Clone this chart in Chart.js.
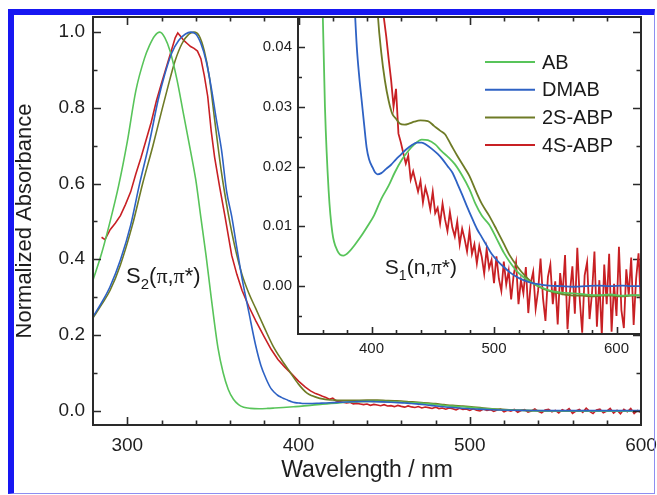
<!DOCTYPE html>
<html>
<head>
<meta charset="utf-8">
<script src="https://cdn.jsdelivr.net/npm/chart.js@4.4.0/dist/chart.umd.min.js"></script>
<style>
  html, body { margin: 0; padding: 0; background: #fff; }
  #wrap { position: relative; width: 657px; height: 495px; overflow: hidden; }
  #mainChart { position: absolute; left: 0; top: 0; }
  #insetChart { position: absolute; left: 230px; top: 0; }
  #frame {
    position: absolute; left: 8px; top: 9px; width: 640px; height: 478px;
    border-top: 6px solid #1717f2; border-left: 6px solid #1717f2;
    border-right: 1px solid #8e8ef0; border-bottom: 1px solid #8e8ef0;
    pointer-events: none;
  }
</style>
</head>
<body>
<div id="wrap">
  <canvas id="mainChart" width="657" height="495"></canvas>
  <canvas id="insetChart" width="427" height="370"></canvas>
  <div id="frame"></div>
</div>
<script>
// ---- data ----
var abWl = [280,285,290,295,300,305,310,313,316,319,322,325,329,333,337,340,343,346,349,353,356,359,362,365,368,372,377,382,386,391,397,402,408,414,419,425,430,435,441,446,452,457,463,468,474,480,485,490,496,502,508,513,520,528,535,545,555,565,575,585,595,605,612,620];
var abAbs = [0.345,0.415,0.50,0.595,0.71,0.845,0.93,0.965,0.99,1.0,0.985,0.95,0.875,0.78,0.685,0.61,0.51,0.41,0.30,0.165,0.10,0.056,0.03,0.016,0.009,0.006,0.0051,0.0058,0.0068,0.0082,0.0101,0.0118,0.0146,0.0168,0.019,0.0212,0.0226,0.0237,0.0245,0.0244,0.0237,0.0226,0.0215,0.0204,0.0185,0.0162,0.0137,0.0118,0.0103,0.0080,0.0056,0.0040,0.0022,0.0009,0.0001,-0.0007,-0.0011,-0.0012,-0.0014,-0.0015,-0.0014,-0.0016,-0.0015,-0.0015];

var dmabWl = [280,285,290,296,302,307,313,318,322,326,330,334,337,340,343,346,349,352,355,358,361,364,367,371,375,378,381,384,386,388,390,392,394,396,398,401,403,405,408,412,416,420,424,428,433,437,441,445,449,454,458,462,466,470,474,478,482,486,490,494,498,503,508,513,518,524,530,537,545,555,565,575,585,595,605,612,620];
var dmabAbs = [0.248,0.285,0.328,0.398,0.49,0.595,0.71,0.82,0.89,0.945,0.978,0.995,1.0,0.995,0.97,0.925,0.855,0.77,0.69,0.58,0.513,0.43,0.35,0.26,0.172,0.12,0.085,0.058,0.048,0.040,0.035,0.031,0.027,0.0232,0.0212,0.0198,0.0190,0.0187,0.0189,0.0196,0.0203,0.0212,0.0220,0.0228,0.0236,0.0240,0.0240,0.0236,0.0230,0.0221,0.0212,0.0201,0.0190,0.0172,0.0153,0.0133,0.0114,0.0096,0.0082,0.0068,0.0054,0.0042,0.0032,0.0023,0.0016,0.0010,0.0006,0.0003,0.0001,0.0000,-0.0001,0.0000,0.0001,0.0000,0.0001,0.0000,0.0000];

var s2Wl = [280,285,290,296,303,309,315,320,324,328,332,336,339,342,345,348,351,355,359,363,367,371,375,380,385,390,395,400,405,408,411,414,417,420,423,427,431,435,440,446,451,456,460,465,470,476,480,485,490,496,502,508,513,519,525,530,535,542,550,558,565,572,580,588,596,604,612,620];
var s2Abs = [0.245,0.28,0.318,0.385,0.49,0.60,0.70,0.79,0.86,0.925,0.97,0.995,1.0,0.99,0.95,0.88,0.77,0.63,0.52,0.43,0.36,0.31,0.27,0.22,0.172,0.135,0.102,0.07,0.046,0.039,0.0343,0.031,0.0288,0.028,0.0272,0.0270,0.0272,0.0275,0.0277,0.0276,0.0268,0.026,0.0254,0.0236,0.0218,0.0198,0.0184,0.016,0.0138,0.0118,0.0095,0.0071,0.0051,0.0033,0.0018,0.0008,0.0001,-0.0006,-0.0011,-0.0014,-0.0016,-0.0016,-0.0017,-0.0016,-0.0016,-0.0017,-0.0016,-0.0016];

var s4Wl = [285,287,290,293,296,299,302,305,308,311,314,317,320,323,326,328,329.5,331,333,335,337,339,341,343,345,347,349,351,354,357,361,364,367,371,375,380,384,388,392,396,400,404,407,
  410,412,414,416,418,420,422,424,426,428,
  430,432,434,436,438,440,442,444,446,448,
  450,452,454,456,458,460,462,464,466,468,
  470,472,474,476,478,480,482,484,486,488,
  490,492,494,496,498,500,502,504,506,508,
  510,512,514,516,518,520,522,524,526,528,
  530,532,534,536,538,540,542,544,546,548,
  550,552,554,556,558,560,562,564,566,568,
  570,572,574,576,578,580,582,584,586,588,
  590,592,594,596,598,600,602,604,606,608,
  610,612,614,616,618,620];
var s4Abs = [0.458,0.452,0.478,0.495,0.515,0.545,0.578,0.625,0.668,0.715,0.762,0.818,0.865,0.91,0.955,0.985,0.998,0.99,0.978,0.97,0.962,0.957,0.95,0.93,0.885,0.83,0.74,0.67,0.59,0.515,0.41,0.36,0.318,0.275,0.238,0.195,0.162,0.135,0.115,0.097,0.078,0.062,0.052,
  0.0450,0.0418,0.0380,0.0345,0.0300,0.0330,0.0255,0.0240,0.0222,0.0205,
  0.0218,0.0178,0.0192,0.0175,0.0158,0.0176,0.0140,0.0165,0.0150,0.0128,
  0.0158,0.0122,0.0131,0.0105,0.0138,0.0112,0.0092,0.0124,0.0098,0.0083,
  0.0108,0.0070,0.0096,0.0079,0.0058,0.0092,0.0054,0.0070,0.0038,0.0067,
  0.0049,0.0021,0.0062,0.0030,0.0044,0.0005,0.0050,0.0012,-0.0008,0.0041,
  0.0003,0.0026,-0.0022,0.0018,0.0040,-0.0030,0.0010,-0.0012,0.0032,-0.0045,
  0.0005,0.0024,-0.0038,-0.0008,0.0046,-0.0020,-0.0058,0.0015,0.0036,-0.0030,
  0.0008,-0.0064,0.0022,-0.0015,0.0052,-0.0072,-0.0010,0.0033,-0.0046,0.0064,
  -0.0022,-0.0078,0.0018,0.0040,-0.0055,-0.0012,0.0058,-0.0068,0.0010,-0.0082,
  0.0036,-0.0030,0.0054,-0.0076,0.0004,-0.0050,0.0066,-0.0040,-0.0070,0.0028,
  -0.0015,0.0048,-0.0065,0.0012,0.0055,-0.0035];

var seriesNames = ['AB', 'DMAB', '2S-ABP', '4S-ABP'];
var seriesColors = ['#58c45a', '#2e62c4', '#6e7b26', '#c82024'];

var mainXTicks = [300, 400, 500, 600];
var mainXMinor = [320, 340, 360, 380, 420, 440, 460, 480, 520, 540, 560, 580];
var mainYTicks = [0, 0.2, 0.4, 0.6, 0.8, 1.0];
var mainYMinor = [0.1, 0.3, 0.5, 0.7, 0.9];

var insetXTicks = [400, 500, 600];
var insetXMinor = [360, 380, 420, 440, 460, 480, 520, 540, 560, 580];
var insetYTicks = [0, 0.01, 0.02, 0.03, 0.04];
var insetYMinor = [-0.005, 0.005, 0.015, 0.025, 0.035];

var FONT = 'Liberation Sans, Arial, sans-serif';

function toPoints(wl, abs) {
    var pts = [];
    for (var i = 0; i < wl.length; i++) {
        pts.push({ x: wl[i], y: abs[i] });
    }
    return pts;
}

function makeDatasets(width) {
    var sets = [[abWl, abAbs], [dmabWl, dmabAbs], [s2Wl, s2Abs], [s4Wl, s4Abs]];
    var order = [2, 1, 3, 4];
    return sets.map(function (s, i) {
        return {
            label: seriesNames[i],
            data: toPoints(s[0], s[1]),
            borderColor: seriesColors[i],
            borderWidth: width,
            pointRadius: 0,
            fill: false,
            order: order[i],
            cubicInterpolationMode: i === 3 ? 'default' : 'monotone',
            tension: 0
        };
    });
}

// frame + inward ticks on all sides
var frameTicks = {
    id: 'frameTicks',
    afterDraw: function (chart, args, opts) {
        var ctx = chart.ctx, a = chart.chartArea;
        var xs = chart.scales.x, ys = chart.scales.y;
        ctx.save();
        ctx.strokeStyle = '#2a2a2a';
        ctx.lineWidth = 2;
        ctx.strokeRect(a.left, a.top, a.right - a.left, a.bottom - a.top);
        ctx.lineWidth = 1.6;
        ctx.beginPath();
        function xt(list, len) {
            list.forEach(function (v) {
                var p = Math.round(xs.getPixelForValue(v)) + 0.5;
                if (p < a.left + 1 || p > a.right - 1) return;
                ctx.moveTo(p, a.bottom); ctx.lineTo(p, a.bottom - len);
                if (opts.mirror) { ctx.moveTo(p, a.top); ctx.lineTo(p, a.top + len); }
            });
        }
        function yt(list, len) {
            list.forEach(function (v) {
                var p = Math.round(ys.getPixelForValue(v)) + 0.5;
                if (p < a.top + 1 || p > a.bottom - 1) return;
                ctx.moveTo(a.left, p); ctx.lineTo(a.left + len, p);
                if (opts.mirror) { ctx.moveTo(a.right, p); ctx.lineTo(a.right - len, p); }
            });
        }
        xt(opts.xMajor, opts.majorLen); xt(opts.xMinor, opts.minorLen);
        yt(opts.yMajor, opts.majorLen); yt(opts.yMinor, opts.minorLen);
        ctx.stroke();
        ctx.restore();
    }
};

// state labels like S2(pi,pi*)
var textNotes = {
    id: 'textNotes',
    afterDatasetsDraw: function (chart, args, opts) {
        var ctx = chart.ctx;
        ctx.save();
        ctx.fillStyle = '#1a1a1a';
        ctx.textBaseline = 'alphabetic';
        ctx.textAlign = 'left';
        opts.items.forEach(function (it) {
            var x = chart.scales.x.getPixelForValue(it.x);
            var y = chart.scales.y.getPixelForValue(it.y);
            it.runs.forEach(function (r) {
                ctx.font = r.font;
                ctx.fillText(r.t, x, y + (r.dy || 0));
                x += ctx.measureText(r.t).width;
            });
        });
        ctx.restore();
    }
};

function stateRuns(sub, mid, size) {
    var sans = size + 'px ' + FONT;
    var serif = size + 'px Liberation Serif, serif';
    return [
        { t: 'S', font: sans },
        { t: sub, font: Math.round(size * 0.68) + 'px ' + FONT, dy: 6 },
        { t: '(', font: sans },
        { t: mid, font: mid === 'n' ? sans : serif },
        { t: ',', font: sans },
        { t: '\u03c0', font: serif },
        { t: '*)', font: sans }
    ];
}

var insetLegend = {
    id: 'insetLegend',
    afterDraw: function (chart, args, opts) {
        var ctx = chart.ctx;
        ctx.save();
        ctx.font = opts.size + 'px ' + FONT;
        ctx.textBaseline = 'middle';
        ctx.fillStyle = '#1a1a1a';
        chart.data.datasets.forEach(function (ds, i) {
            var y = opts.top + i * opts.gap;
            ctx.strokeStyle = ds.borderColor;
            ctx.lineWidth = 2;
            ctx.beginPath();
            ctx.moveTo(opts.x0, y); ctx.lineTo(opts.x1, y);
            ctx.stroke();
            ctx.fillText(ds.label, opts.tx, y + 1);
        });
        ctx.restore();
    }
};

function scaleOpts(min, max, ticks, fmt, size, pad, fit) {
    return {
        type: 'linear', min: min, max: max,
        grid: { display: false, drawTicks: false },
        border: { display: false },
        afterBuildTicks: function (s) { s.ticks = ticks.map(function (v) { return { value: v }; }); },
        afterFit: function (s) {
            fit(s);
            s.paddingLeft = 0; s.paddingRight = 0; s.paddingTop = 0; s.paddingBottom = 0;
        },
        ticks: {
            autoSkip: false, maxRotation: 0, padding: pad, color: '#1e1e1e',
            font: { family: FONT, size: size },
            callback: function (v) { return Number(v).toFixed(fmt); }
        }
    };
}

// ---- inset ----
var insetEl = document.getElementById('insetChart');
var insetX = scaleOpts(340, 620, insetXTicks, 0, 15, 6, function (s) { s.height = 36; });
var insetY = scaleOpts(-0.008, 0.045, insetYTicks, 2, 15, 6, function (s) { s.width = 68; });

var insetChart = new Chart(insetEl, {
    type: 'line',
    data: { datasets: makeDatasets(1.8) },
    options: {
        responsive: false, animation: false, events: [],
        layout: { padding: { top: 17, right: 16, left: 0, bottom: 0 } },
        plugins: {
            legend: { display: false }, tooltip: { enabled: false },
            frameTicks: { xMajor: insetXTicks, xMinor: insetXMinor, yMajor: insetYTicks, yMinor: insetYMinor, majorLen: 7, minorLen: 4, mirror: false },
            textNotes: { items: [{ x: 410.9, y: 0.0021, runs: stateRuns('1', 'n', 21) }] },
            insetLegend: { x0: 255, x1: 305, tx: 312, top: 62, gap: 27.7, size: 20 }
        },
        scales: { x: insetX, y: insetY }
    },
    plugins: [frameTicks, textNotes, insetLegend]
});

// ---- main ----
var insetHole = {
    id: 'insetHole',
    beforeDatasetsDraw: function (chart) {
        var a = chart.chartArea, r = insetChart.chartArea;
        var dx = insetEl.offsetLeft, dy = insetEl.offsetTop;
        var ctx = chart.ctx;
        ctx.save();
        ctx.beginPath();
        ctx.rect(a.left, a.top, a.right - a.left, a.bottom - a.top);
        ctx.rect(r.left + dx - 1, r.top + dy - 1, r.right - r.left + 2, r.bottom - r.top + 2);
        ctx.clip('evenodd');
    },
    afterDatasetsDraw: function (chart) { chart.ctx.restore(); }
};

var mainX = scaleOpts(280, 600, mainXTicks, 0, 19, 9, function (s) { s.height = 70; });
mainX.title = { display: true, text: 'Wavelength / nm', color: '#1e1e1e', font: { family: FONT, size: 23 }, padding: { top: 0, bottom: 11 } };
var mainY = scaleOpts(-0.038, 1.04, mainYTicks, 1, 19, 8, function (s) { s.width = 93; });
mainY.title = { display: true, text: 'Normalized Absorbance', color: '#1e1e1e', font: { family: FONT, size: 22 }, padding: { top: 12, bottom: 0 } };

var mainChart = new Chart(document.getElementById('mainChart'), {
    type: 'line',
    data: { datasets: makeDatasets(1.6) },
    options: {
        responsive: false, animation: false, events: [],
        layout: { padding: { top: 17, right: 16, left: 0, bottom: 0 } },
        plugins: {
            legend: { display: false }, tooltip: { enabled: false },
            frameTicks: { xMajor: mainXTicks, xMinor: mainXMinor, yMajor: mainYTicks, yMinor: mainYMinor, majorLen: 8, minorLen: 4.5, mirror: true },
            textNotes: { items: [{ x: 299.3, y: 0.337, runs: stateRuns('2', '\u03c0', 22) }] }
        },
        scales: { x: mainX, y: mainY }
    },
    plugins: [insetHole, frameTicks, textNotes]
});
</script>
</body>
</html>
